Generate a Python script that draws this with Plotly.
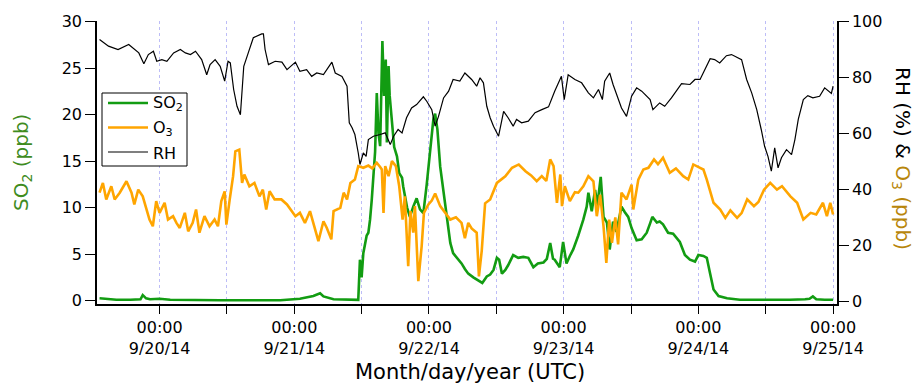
import pandas as pd
import plotly.graph_objects as go

# Measurement start reference (hours below are offsets from 9/19/14 00:00 UTC)
T0 = pd.Timestamp("2014-09-19 00:00")

so2_hours = [13.3, 16.3, 18.8, 20.6, 21.0, 21.6, 22.3, 24.0, 25.9, 29.5, 34.8, 40.1, 45.5, 49.0,
             51.4, 52.6, 53.2, 55.0, 57.1, 59.4, 59.7, 60.0, 60.3, 60.9, 61.2, 61.5, 61.8, 62.0,
             62.4, 62.7, 63.0, 63.3, 63.5, 63.7, 64.0, 64.3, 64.5, 64.8, 65.0, 65.4, 65.8, 66.3,
             66.7, 67.2, 67.4, 68.1, 68.6, 69.2, 69.8, 70.4, 71.0, 71.6, 72.2, 72.8, 73.1, 73.5,
             74.0, 74.6, 75.2, 75.8, 76.3, 76.9, 77.8, 78.4, 79.0, 79.9, 80.8, 81.5, 82.3, 82.9,
             83.5, 84.1, 84.5, 85.0, 85.6, 86.1, 87.0, 87.9, 88.8, 89.7, 90.6, 91.4, 92.4, 93.0,
             93.6, 94.1, 94.4, 95.3, 95.9, 96.5, 97.1, 97.7, 98.6, 99.5, 100.1, 100.4, 101.0,
             101.6, 102.0, 102.6, 103.1, 103.7, 104.2, 104.8, 105.4, 105.9, 106.3, 106.9, 107.5,
             108.1, 109.0, 109.9, 110.8, 111.4, 111.8, 112.6, 113.1, 113.7, 114.6, 115.5, 116.7,
             117.6, 118.5, 119.4, 120.0, 120.9, 121.5, 122.1, 122.7, 123.6, 125.1, 127.4, 131.0,
             136.3, 139.0, 139.8, 140.4, 141.0, 142.5, 144.0]
so2_ppb = [0.25, 0.1, 0.1, 0.15, 0.6, 0.25, 0.15, 0.2, 0.1, 0.05, 0.05, 0.05, 0.05, 0.2,
           0.5, 0.8, 0.45, 0.15, 0.08, 0.08, 4.4, 2.5, 5.1, 7.0, 7.3, 8.7, 10.8, 12.5,
           16.0, 22.3, 18.0, 16.6, 21.0, 27.9, 22.0, 25.9, 17.0, 25.2, 22.0, 19.5, 16.5, 15.5,
           13.7, 13.2, 12.3, 10.0, 9.0, 10.1, 11.0, 9.8, 9.4, 12.5, 16.0, 19.6, 20.1, 18.4,
           14.4, 11.6, 8.5, 6.2, 5.1, 4.7, 4.0, 3.4, 2.9, 2.5, 2.2, 1.9, 2.6, 2.8,
           3.3, 4.6, 4.4, 2.9, 3.3, 3.8, 4.9, 4.6, 4.7, 4.6, 3.6, 4.0, 4.1, 4.5,
           6.2, 4.5, 4.4, 3.6, 6.3, 4.0, 4.8, 5.5, 7.0, 8.7, 10.1, 11.6, 9.6,
           11.9, 10.2, 13.3, 9.0, 8.4, 5.5, 8.5, 7.4, 9.0, 10.1, 9.5, 9.0,
           7.8, 6.5, 6.6, 7.3, 8.3, 9.0, 8.4, 8.5, 8.2, 7.3, 7.2, 6.3,
           4.9, 4.4, 4.2, 4.9, 4.8, 4.6, 2.9, 1.2, 0.5, 0.25, 0.1, 0.08,
           0.1, 0.15, 0.2, 0.45, 0.15, 0.1, 0.1]

o3_hours = [13.3, 13.9, 14.5, 15.4, 16.0, 16.9, 18.1, 19.0, 19.5, 20.2, 21.0, 21.6, 22.2, 22.8,
            23.4, 24.0, 24.9, 25.5, 26.4, 27.0, 27.6, 28.5, 29.1, 29.9, 30.5, 31.1, 32.0, 32.9,
            33.8, 34.4, 35.0, 35.6, 35.9, 36.5, 37.1, 37.5, 38.2, 38.7, 39.1, 40.0, 40.9, 41.8,
            42.4, 43.0, 43.6, 44.5, 45.7, 46.7, 48.2, 49.0, 49.9, 50.8, 51.7, 52.3, 53.2, 53.8,
            54.6, 55.0, 56.2, 56.8, 57.4, 58.0, 58.8, 59.4, 60.3, 61.2, 61.9, 62.7, 63.3, 63.6,
            63.9, 64.2, 64.8, 65.4, 66.1, 66.7, 67.3, 67.7, 68.3, 68.7, 69.2, 69.5, 70.1, 70.7,
            71.1, 71.9, 72.5, 73.1, 74.0, 74.9, 75.8, 76.8, 77.8, 78.4, 79.0, 79.6, 80.5, 80.9,
            81.4, 82.0, 82.9, 84.1, 85.6, 86.8, 88.0, 89.2, 90.2, 91.2, 92.1, 92.9, 93.6, 94.2,
            94.8, 95.4, 95.7, 96.2, 97.1, 98.0, 98.6, 99.5, 100.4, 101.3, 101.9, 102.5, 103.1,
            103.6, 104.1, 104.6, 105.2, 105.7, 106.3, 107.2, 108.1, 108.4, 109.3, 110.2, 111.1,
            112.1, 112.8, 113.7, 114.9, 116.0, 117.3, 118.2, 119.1, 120.3, 120.9, 121.5, 122.7,
            123.9, 124.8, 125.7, 126.9, 127.7, 128.7, 129.9, 130.7, 131.7, 132.8, 134.0, 134.9,
            136.4, 137.6, 138.7, 140.0, 141.0, 142.2, 142.9, 143.5, 144.0]
o3_ppb = [38.8, 42.3, 36.4, 41.1, 36.4, 38.8, 42.9, 38.8, 34.6, 39.9, 37.5, 33.0, 29.2, 26.8,
          35.8, 31.6, 35.2, 29.2, 30.4, 28.0, 26.2, 31.6, 25.0, 28.0, 32.8, 24.5, 30.4, 26.8,
          29.2, 26.8, 35.8, 39.3, 27.4, 36.4, 44.7, 53.6, 54.2, 42.3, 45.3, 41.1, 42.3, 37.5,
          39.9, 32.8, 39.3, 36.4, 36.4, 34.6, 30.4, 31.6, 28.0, 32.2, 26.2, 21.5, 28.6, 26.2,
          22.1, 32.2, 33.4, 38.8, 36.4, 42.3, 43.5, 48.3, 47.7, 48.5, 47.5, 49.5, 48.0, 47.1,
          31.6, 48.3, 44.7, 50.1, 48.3, 41.1, 29.2, 37.5, 12.5, 32.2, 24.5, 34.0, 7.2, 19.7,
          31.6, 34.6, 36.0, 38.5, 34.0, 31.6, 29.2, 30.0, 28.0, 22.5, 28.0, 26.0, 24.5, 8.9,
          18.0, 35.0, 36.4, 42.3, 44.7, 47.7, 48.9, 46.5, 45.0, 42.9, 44.7, 43.0, 50.7, 48.3,
          35.2, 45.3, 34.0, 41.1, 35.8, 39.0, 38.8, 41.1, 44.7, 42.9, 30.4, 38.1, 26.8,
          13.7, 29.2, 20.9, 30.0, 20.3, 38.8, 36.4, 41.7, 32.8, 43.5, 47.1, 47.7,
          50.7, 49.0, 51.3, 45.9, 47.5, 44.7, 43.5, 48.9, 47.7, 47.1, 43.5, 35.2,
          32.8, 29.8, 32.5, 29.8, 31.5, 36.4, 34.0, 35.5, 39.9, 42.3, 39.9, 41.1,
          37.5, 35.2, 29.2, 31.6, 31.0, 35.2, 30.4, 35.2, 31.0]

rh_hours = [13.3, 14.9, 16.6, 18.5, 20.3, 21.2, 22.0, 22.9, 23.5, 24.4, 25.3, 26.5, 27.7, 28.6,
            29.5, 30.4, 31.5, 32.4, 33.0, 33.9, 34.8, 35.6, 36.2, 36.6, 37.2, 37.8, 38.4, 38.7,
            39.0, 39.8, 40.7, 42.2, 42.5, 42.8, 43.4, 44.6, 45.8, 46.7, 48.2, 49.0, 50.2, 51.1,
            52.0, 53.2, 54.7, 55.3, 56.5, 57.4, 57.8, 58.3, 58.8, 59.4, 59.7, 60.3, 60.8, 61.2,
            62.1, 63.3, 64.2, 65.1, 65.7, 66.5, 67.2, 68.0, 68.9, 69.8, 71.0, 71.6, 72.5, 73.1,
            73.7, 74.6, 75.5, 76.3, 77.5, 78.4, 79.6, 80.5, 81.1, 81.7, 82.3, 82.9, 83.5, 84.4,
            85.0, 85.3, 86.1, 87.0, 87.6, 88.5, 89.7, 90.9, 92.1, 93.3, 94.4, 95.6, 96.1, 96.8,
            98.0, 99.2, 100.4, 101.3, 102.2, 102.9, 103.3, 104.2, 104.8, 106.3, 107.2, 108.1,
            109.0, 109.9, 111.4, 111.9, 113.1, 114.0, 115.2, 117.0, 118.5, 119.4, 120.3, 121.2,
            122.1, 122.9, 123.8, 125.0, 125.9, 127.7, 128.6, 129.5, 130.4, 131.2, 131.8, 132.4,
            133.0, 133.6, 134.2, 134.8, 135.7, 136.6, 137.2, 137.8, 138.7, 139.5, 140.4, 141.6,
            142.5, 143.7, 144.0]
rh_pct = [93.6, 91.2, 90.0, 91.8, 88.8, 84.9, 88.2, 89.4, 85.8, 86.4, 85.8, 88.8, 90.0, 88.8,
          88.2, 89.4, 86.4, 81.0, 84.6, 86.4, 84.0, 78.7, 85.8, 85.2, 75.7, 69.7, 66.7, 74.5,
          84.0, 88.8, 94.2, 95.6, 95.6, 90.0, 84.6, 85.8, 85.5, 82.8, 85.5, 82.2, 82.8, 80.4,
          81.6, 81.0, 85.5, 81.6, 80.4, 76.9, 63.8, 62.0, 59.6, 53.0, 48.9, 53.0, 51.8, 57.8,
          59.0, 59.6, 60.2, 56.0, 59.0, 61.4, 60.2, 65.6, 69.1, 70.3, 73.1, 71.5, 68.5, 62.6,
          66.1, 72.7, 75.1, 79.3, 78.7, 81.6, 79.3, 76.9, 79.9, 78.1, 69.7, 65.6, 62.6, 59.0,
          65.0, 67.9, 65.6, 62.6, 65.0, 63.8, 64.4, 67.4, 68.5, 69.5, 75.1, 80.4, 72.1, 81.0,
          79.3, 78.1, 74.5, 72.7, 75.7, 72.1, 78.7, 81.6, 77.5, 69.1, 66.1, 73.3,
          76.3, 75.1, 72.1, 68.5, 70.9, 69.7, 72.7, 77.8, 77.5, 79.3, 79.3, 82.8,
          86.7, 86.4, 85.2, 87.8, 88.2, 86.4, 79.3, 74.5, 68.5, 61.4, 55.4, 51.8,
          46.5, 54.8, 47.7, 51.3, 54.2, 52.4, 57.8, 65.0, 72.1, 73.5, 72.7, 73.3,
          76.3, 74.3, 76.9]

day_ticks = ["2014-09-20", "2014-09-21", "2014-09-22", "2014-09-23", "2014-09-24", "2014-09-25"]
day_labels = ["00:00<br>9/20/14", "00:00<br>9/21/14", "00:00<br>9/22/14",
              "00:00<br>9/23/14", "00:00<br>9/24/14", "00:00<br>9/25/14"]
noon_ticks = ["2014-09-19 12:00", "2014-09-20 12:00", "2014-09-21 12:00",
              "2014-09-22 12:00", "2014-09-23 12:00", "2014-09-24 12:00"]

series_names = ["SO<sub>2</sub>", "O<sub>3</sub>", "RH"]


def to_time(hours):
    return T0 + pd.to_timedelta(pd.Series(hours), unit="h")


FONT = "DejaVu Sans"
GREEN = "#129c12"
ORANGE = "#ffa500"
GRID = "#bdbdf7"
colors = [GREEN, ORANGE, "black"]
widths = [2.6, 2.6, 1.2]

# Plot frame in pixels, used to place the boxed key in paper coordinates
L, R, T, B = 97, 837, 21, 304


def px(xp):
    return (xp - L) / (R - L)


def py(yp):
    return (B - yp) / (B - T)


fig = go.Figure()
fig.add_trace(go.Scatter(x=to_time(so2_hours), y=so2_ppb, name=series_names[0],
                         mode="lines", line=dict(color=GREEN, width=widths[0]), yaxis="y"))
fig.add_trace(go.Scatter(x=to_time(o3_hours), y=o3_ppb, name=series_names[1],
                         mode="lines", line=dict(color=ORANGE, width=widths[1]), yaxis="y2"))
fig.add_trace(go.Scatter(x=to_time(rh_hours), y=rh_pct, name=series_names[2],
                         mode="lines", line=dict(color="black", width=widths[2]), yaxis="y2"))

# Boxed key in the upper-left of the frame
shapes = [dict(type="rect", xref="paper", yref="paper",
               x0=px(102), x1=px(187), y0=py(166), y1=py(93),
               fillcolor="white", line=dict(color="black", width=1), layer="above")]
annotations = []
for i, (name, c, w) in enumerate(zip(series_names, colors, widths)):
    yy = 103 + i * 24.5
    shapes.append(dict(type="line", xref="paper", yref="paper",
                       x0=px(108), x1=px(148), y0=py(yy), y1=py(yy),
                       line=dict(color=c, width=w), layer="above"))
    annotations.append(dict(text=name, xref="paper", yref="paper", x=px(151), y=py(yy + 1),
                            xanchor="left", yanchor="middle", showarrow=False,
                            font=dict(size=16, color="black")))

annotations += [
    dict(text="SO<sub>2</sub> (ppb)", xref="paper", yref="paper", x=px(22), y=py(163),
         xanchor="center", yanchor="middle",
         textangle=-90, showarrow=False, font=dict(size=20, color="#3f8c1f")),
    dict(text="RH (%) & <span style='color:#b8860b'>O<sub>3</sub> (ppb)</span>",
         xref="paper", yref="paper", x=px(902), y=py(158),
         xanchor="center", yanchor="middle",
         textangle=90, showarrow=False, font=dict(size=20, color="black")),
    dict(text="Month/day/year (UTC)", xref="paper", yref="paper", x=px(469.5), y=py(372),
         xanchor="center", yanchor="middle",
         showarrow=False, font=dict(size=21, color="black")),
]

fig.update_layout(
    width=914, height=385,
    margin=dict(l=L, r=914 - R, t=T, b=385 - B),
    paper_bgcolor="white", plot_bgcolor="white",
    font=dict(family=FONT, size=16, color="black"),
    showlegend=False,
    xaxis=dict(
        type="date",
        range=["2014-09-19 12:51", "2014-09-25 00:42"],
        tickmode="array", tickvals=day_ticks, ticktext=day_labels,
        ticks="outside", ticklen=8, tickwidth=1, tickcolor="black",
        showline=True, linecolor="black", linewidth=1.5,
        showgrid=True, gridcolor=GRID, griddash="dot", gridwidth=1,
        zeroline=False,
        minor=dict(tickvals=noon_ticks, ticks="outside", ticklen=8, tickwidth=1,
                   tickcolor="black", showgrid=True, gridcolor=GRID, griddash="dot"),
    ),
    yaxis=dict(
        range=[-0.36, 30.05], tickvals=[0, 5, 10, 15, 20, 25, 30],
        ticks="outside", ticklen=10, tickwidth=1, tickcolor="black",
        showline=True, linecolor="black", linewidth=1.5,
        showgrid=False, zeroline=False,
    ),
    yaxis2=dict(
        overlaying="y", side="right",
        range=[-1.0, 100.2], tickvals=[0, 20, 40, 60, 80, 100],
        ticks="outside", ticklen=10, tickwidth=1, tickcolor="black",
        showline=True, linecolor="black", linewidth=1.5,
        showgrid=False, zeroline=False,
    ),
    shapes=shapes,
    annotations=annotations,
)

fig.write_html("out.html")
